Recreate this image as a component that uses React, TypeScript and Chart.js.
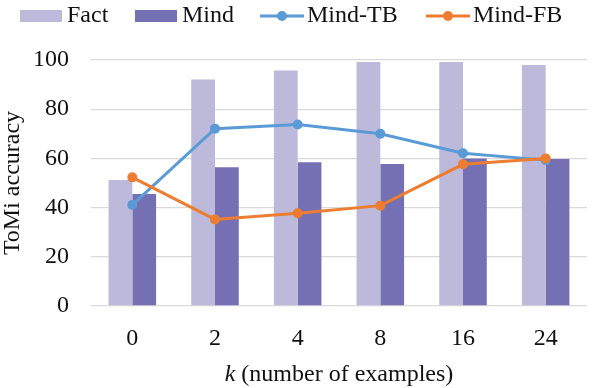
import React, { useEffect, useRef } from "react";
import { Chart, registerables } from "chart.js";

Chart.register(...registerables);

const categories = ["0", "2", "4", "8", "16", "24"];
const factValues = [51.2, 92.1, 95.7, 99.2, 99.2, 98.0];
const mindValues = [45.5, 56.4, 58.4, 57.7, 60.0, 59.8];
const mindTBValues = [41.1, 72.1, 73.8, 70.0, 62.1, 59.3];
const mindFBValues = [52.3, 35.2, 37.7, 40.8, 57.6, 60.0];
const yTickLabels = [0, 20, 40, 60, 80, 100];

const FONT = "'Liberation Serif', 'Times New Roman', serif";
const FONT_SIZE = 24;
const TEXT = "#111111";
const C_FACT = "#bdb9da";
const C_MIND = "#7570b3";
const C_TB = "#5b9bd5";
const C_FB = "#ed7d31";

const overlayPlugin = {
  id: "overlay",
  afterDraw(chart: any) {
    const ctx = chart.ctx as CanvasRenderingContext2D;
    const area = chart.chartArea;
    ctx.save();
    ctx.fillStyle = TEXT;
    ctx.font = `${FONT_SIZE}px ${FONT}`;
    ctx.textBaseline = "middle";

    // legend
    const ly = 16;
    const items = [
      { label: "Fact", type: "box", color: C_FACT, x: 20 },
      { label: "Mind", type: "box", color: C_MIND, x: 135 },
      { label: "Mind-TB", type: "line", color: C_TB, x: 260 },
      { label: "Mind-FB", type: "line", color: C_FB, x: 426 },
    ];
    items.forEach((it) => {
      if (it.type === "box") {
        ctx.fillStyle = it.color;
        ctx.fillRect(it.x, ly - 6, 42, 12);
      } else {
        ctx.strokeStyle = it.color;
        ctx.lineWidth = 3;
        ctx.beginPath();
        ctx.moveTo(it.x, ly);
        ctx.lineTo(it.x + 44, ly);
        ctx.stroke();
        ctx.fillStyle = it.color;
        ctx.beginPath();
        ctx.arc(it.x + 22, ly, 5, 0, Math.PI * 2);
        ctx.fill();
      }
      ctx.fillStyle = TEXT;
      ctx.textAlign = "left";
      ctx.fillText(it.label, it.x + 47, ly);
    });

    // x title with italic k
    const cx = (area.left + area.right) / 2;
    const ty = 375;
    const italicFont = `italic ${FONT_SIZE}px ${FONT}`;
    const normalFont = `${FONT_SIZE}px ${FONT}`;
    const rest = " (number of examples)";
    ctx.font = italicFont;
    const wk = ctx.measureText("k").width;
    ctx.font = normalFont;
    const wr = ctx.measureText(rest).width;
    const startX = cx - (wk + wr) / 2;
    ctx.textAlign = "left";
    ctx.font = italicFont;
    ctx.fillText("k", startX, ty);
    ctx.font = normalFont;
    ctx.fillText(rest, startX + wk, ty);

    // y title
    ctx.translate(13, (area.top + area.bottom) / 2);
    ctx.rotate(-Math.PI / 2);
    ctx.textAlign = "center";
    ctx.fillText("ToMi accuracy", 0, 0);
    ctx.restore();
  },
};

export default function App() {
  const ref = useRef<HTMLCanvasElement | null>(null);

  useEffect(() => {
    document.body.style.margin = "0";
    if (!ref.current) return;
    const chart = new Chart(ref.current, {
      type: "bar",
      data: {
        labels: categories,
        datasets: [
          {
            type: "bar",
            label: "Fact",
            data: factValues,
            backgroundColor: C_FACT,
            categoryPercentage: 0.575,
            barPercentage: 1,
            order: 2,
          },
          {
            type: "bar",
            label: "Mind",
            data: mindValues,
            backgroundColor: C_MIND,
            categoryPercentage: 0.575,
            barPercentage: 1,
            order: 2,
          },
          {
            type: "line",
            label: "Mind-TB",
            data: mindTBValues,
            borderColor: C_TB,
            backgroundColor: C_TB,
            borderWidth: 3,
            pointRadius: 5,
            pointBorderWidth: 0,
            tension: 0,
            order: 1,
          },
          {
            type: "line",
            label: "Mind-FB",
            data: mindFBValues,
            borderColor: C_FB,
            backgroundColor: C_FB,
            borderWidth: 3,
            pointRadius: 5,
            pointBorderWidth: 0,
            tension: 0,
            order: 0,
          },
        ] as any,
      },
      options: {
        animation: false,
        responsive: false,
        maintainAspectRatio: false,
        layout: { padding: { top: 60, left: 0, right: 0, bottom: 0 } },
        plugins: {
          legend: { display: false },
          tooltip: { enabled: false },
        },
        scales: {
          x: {
            grid: { display: false, drawTicks: false },
            border: { display: false },
            ticks: {
              color: TEXT,
              font: { family: FONT, size: FONT_SIZE },
              padding: 18,
            },
            afterFit(scale: any) {
              scale.height = 82;
            },
          },
          y: {
            min: 0,
            max: 100,
            border: { display: false },
            grid: {
              drawTicks: false,
              color: (c: any) =>
                c.tick && c.tick.value % 20 === 0 ? "#d9d9d9" : "#f0f0f0",
              lineWidth: (c: any) => (c.tick && c.tick.value % 20 === 0 ? 1.3 : 1),
            },
            ticks: {
              stepSize: 10,
              color: TEXT,
              font: { family: FONT, size: FONT_SIZE },
              padding: 22,
              callback: (v: any) =>
                yTickLabels.includes(Number(v)) ? String(v) : "",
            },
            afterFit(scale: any) {
              scale.width = 91;
            },
          },
        },
      },
      plugins: [overlayPlugin],
    });
    return () => chart.destroy();
  }, []);

  return (
    <div style={{ position: "absolute", left: 0, top: 0, width: 592, height: 388, background: "#fff" }}>
      <canvas ref={ref} width={592} height={388} style={{ width: 592, height: 388 }} />
    </div>
  );
}
